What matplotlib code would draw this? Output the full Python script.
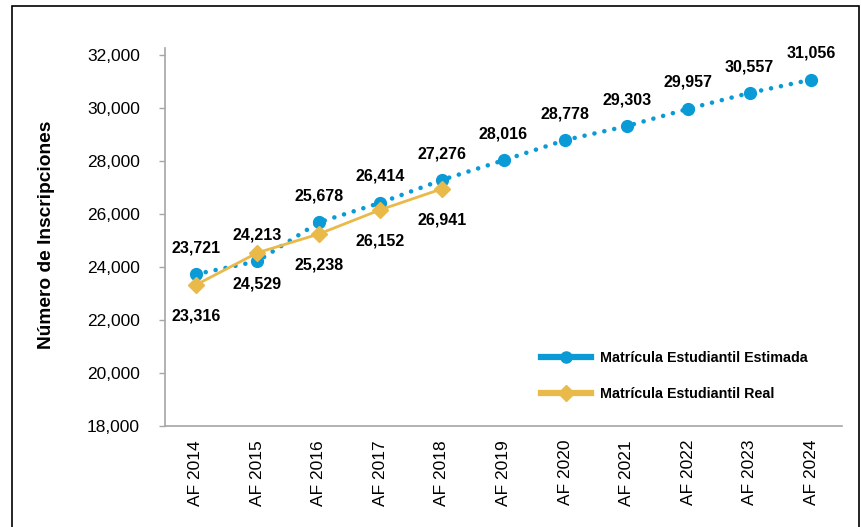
import matplotlib
matplotlib.use("Agg")
import matplotlib.pyplot as plt
from matplotlib.lines import Line2D
from matplotlib.patches import Rectangle
from matplotlib.ticker import FuncFormatter

# data
years = ["AF 2014", "AF 2015", "AF 2016", "AF 2017", "AF 2018", "AF 2019",
         "AF 2020", "AF 2021", "AF 2022", "AF 2023", "AF 2024"]
estimada = [23721, 24213, 25678, 26414, 27276, 28016, 28778, 29303, 29957, 30557, 31056]
real = [23316, 24529, 25238, 26152, 26941]
y_ticks = [18000, 20000, 22000, 24000, 26000, 28000, 30000, 32000]

blue = "#0a9bd7"
gold = "#e9b94a"
axis_gray = "#a6a6a6"

plt.rcParams["font.family"] = ["Liberation Sans", "DejaVu Sans"]

fig = plt.figure(figsize=(8.61, 5.27), dpi=100)
ax = fig.add_axes([165 / 861, 1 - 426 / 527, (842 - 165) / 861, (426 - 48) / 527])

x_est = list(range(len(estimada)))
x_real = list(range(len(real)))

# estimated: round-dot line with circle markers
ax.plot(x_est, estimada, color=blue, lw=3.3, dashes=(0.01, 2.2),
        dash_capstyle="round", marker="o", markersize=8.5, zorder=3)
# real: solid line with diamonds
ax.plot(x_real, real, color=gold, lw=2, marker="D", markersize=8, zorder=4)

# data labels: blue above, gold below
for i, v in enumerate(estimada):
    ax.annotate(f"{v:,}", (i, v), xytext=(0, 19), textcoords="offset points",
                ha="center", va="center", fontsize=11.5, fontweight="bold")
for i, v in enumerate(real):
    ax.annotate(f"{v:,}", (i, v), xytext=(0, -22.5), textcoords="offset points",
                ha="center", va="center", fontsize=11.5, fontweight="bold")

ax.set_xlim(-0.5, len(years) - 0.5)
ax.set_ylim(18000, 32250)
ax.set_yticks(y_ticks)
ax.yaxis.set_major_formatter(FuncFormatter(lambda v, p: f"{int(v):,}"))
ax.set_xticks(x_est)
ax.set_xticklabels(years, rotation=90)

ax.tick_params(axis="y", length=4, width=1, color=axis_gray, pad=14, labelsize=12.5)
ax.tick_params(axis="x", length=0, pad=10, labelsize=12.5)

for s in ["top", "right"]:
    ax.spines[s].set_visible(False)
for s in ["left", "bottom"]:
    ax.spines[s].set_color(axis_gray)
    ax.spines[s].set_linewidth(1.2)

fig.text(47 / 861, 1 - 235 / 527, "Número de Inscripciones", rotation=90,
         ha="center", va="center", fontsize=13.8, fontweight="bold")

# legend with thick solid handles
handles = [
    Line2D([], [], color=blue, lw=4.5, marker="o", markersize=8),
    Line2D([], [], color=gold, lw=4.5, marker="D", markersize=8),
]
labels = ["Matrícula Estudiantil Estimada", "Matrícula Estudiantil Real"]
leg = ax.legend(handles, labels, loc="center left",
                bbox_to_anchor=(541 / 861, 1 - 376 / 527),
                bbox_transform=fig.transFigure, frameon=False,
                prop={"weight": "bold", "size": 10.3},
                handlelength=3.5, handletextpad=0.6, labelspacing=1.5,
                borderpad=0, borderaxespad=0)

# outer frame around the chart
fig.patches.append(Rectangle((12 / 861, -0.05), (859 - 12) / 861, 1 - 6 / 527 + 0.05,
                             transform=fig.transFigure, fill=False,
                             edgecolor="black", lw=1.2))

fig.savefig("out.png", dpi=100)
